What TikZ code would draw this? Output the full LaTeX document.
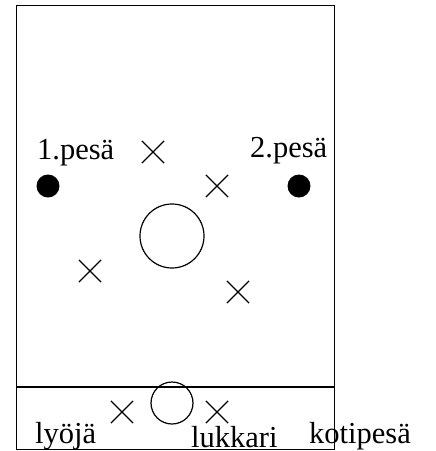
\documentclass[tikz,border=0pt]{standalone}
\usepackage{fontspec}
\setmainfont{Liberation Serif}
\usetikzlibrary{shapes.misc}
\begin{document}
\begin{tikzpicture}[x=1pt,y=-1pt,
  lbl/.style={anchor=base west,inner sep=0pt,font=\fontsize{30.5}{36}\selectfont},
  xmark/.style={cross out,draw,line width=1.2pt,minimum size=21pt,inner sep=0pt},
  base/.style={circle,fill=black,minimum size=23pt,inner sep=0pt},
  ring/.style={circle,draw,line width=1.2pt,inner sep=0pt}]
\useasboundingbox (0,0) rectangle (436,451);
\node[draw,line width=1.2pt,minimum width=318pt,minimum height=444pt,inner sep=0pt,anchor=north west] (field) at (15.5,5) {};
\coordinate (sepL) at (15.5,387);
\coordinate (sepR) at (333.5,387);
\draw[line width=1.2pt] (sepL) -- (sepR);
\node[base] (b1) at (48,186) {};
\node[base] (b2) at (299,186) {};
\node[lbl] (t1) at (37,159) {1.pesä};
\node[lbl] (t2) at (250,157) {2.pesä};
\node[xmark] (x1) at (153,152) {};
\node[xmark] (x2) at (217,186) {};
\node[xmark] (x3) at (90,271) {};
\node[xmark] (x4) at (238,292) {};
\node[ring,minimum size=64pt] (c1) at (172,236) {};
\node[ring,minimum size=42pt] (c2) at (172,403) {};
\node[xmark] (x5) at (122,412) {};
\node[xmark] (x6) at (217,412) {};
\node[lbl] (t3) at (35,443) {lyöjä};
\node[lbl] (t4) at (191,447.5) {lukkari};
\node[lbl] (t5) at (309,443) {kotipesä};
\end{tikzpicture}
\end{document}
